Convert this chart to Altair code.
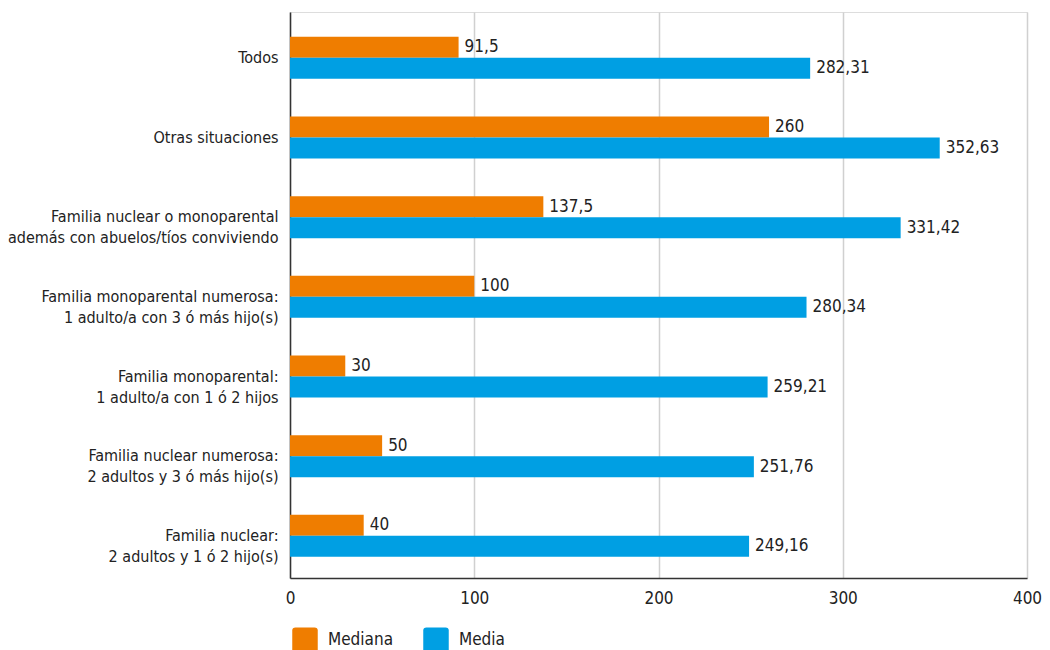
import altair as alt
import pandas as pd

categories = [
    "Todos",
    "Otras situaciones",
    "Familia nuclear o monoparental|además con abuelos/tíos conviviendo",
    "Familia monoparental numerosa:|1 adulto/a con 3 ó más hijo(s)",
    "Familia monoparental:|1 adulto/a con 1 ó 2 hijos",
    "Familia nuclear numerosa:|2 adultos y 3 ó más hijo(s)",
    "Familia nuclear:|2 adultos y 1 ó 2 hijo(s)",
]
mediana = [91.5, 260, 137.5, 100, 30, 50, 40]
media = [282.31, 352.63, 331.42, 280.34, 259.21, 251.76, 249.16]
series = ["Mediana", "Media"]
colors = ["#EF7D00", "#009FE3"]
x_ticks = [0, 100, 200, 300, 400]


def fmt(v):
    s = ("%.2f" % v).rstrip("0").rstrip(".")
    return s.replace(".", ",")


rows = []
for c, a, b in zip(categories, mediana, media):
    rows.append({"cat": c, "serie": "Mediana", "valor": a, "label": fmt(a)})
    rows.append({"cat": c, "serie": "Media", "valor": b, "label": fmt(b)})
df = pd.DataFrame(rows)

FONT = "'DejaVu Sans Condensed', Roboto, sans-serif"
TXT = "#222222"

y_enc = alt.Y(
    "cat:N",
    sort=categories,
    scale=alt.Scale(paddingInner=0.473, paddingOuter=0.289, align=0.54),
    axis=alt.Axis(
        title=None,
        labelExpr="split(datum.label, '|')",
        labelFont=FONT,
        labelFontSize=16,
        labelColor=TXT,
        labelLimit=400,
        labelPadding=12,
        ticks=False,
        domainColor="#333333",
        domainWidth=1.5,
        labelLineHeight=21,
    ),
)
x_enc = alt.X(
    "valor:Q",
    scale=alt.Scale(domain=[0, 400], nice=False),
    axis=alt.Axis(
        title=None,
        values=x_ticks,
        labelFont=FONT,
        labelFontSize=17,
        labelColor=TXT,
        ticks=False,
        labelPadding=12,
        domainColor="#333333",
        domainWidth=1.5,
        grid=True,
        gridColor="#d0d0d0",
        gridWidth=1.5,
        labelFlush=False,
    ),
)
yoff = alt.YOffset("serie:N", sort=series, scale=alt.Scale(domain=series, paddingInner=0, paddingOuter=0))

rounded = "M-0.75,-1 H0.75 Q1,-1 1,-0.75 V0.75 Q1,1 0.75,1 H-0.75 Q-1,1 -1,0.75 V-0.75 Q-1,-1 -0.75,-1 Z"

bars = alt.Chart(df).mark_bar().encode(
    y=y_enc,
    x=x_enc,
    yOffset=yoff,
    color=alt.Color(
        "serie:N",
        sort=series,
        scale=alt.Scale(domain=series, range=colors),
        legend=alt.Legend(
            title=None,
            orient="none",
            direction="horizontal",
            legendX=2,
            legendY=615,
            symbolType=rounded,
            symbolSize=650,
            symbolStrokeWidth=0,
            symbolOpacity=1,
            labelFont=FONT,
            labelFontSize=17,
            labelColor=TXT,
            labelOffset=10,
            columnPadding=29,
        ),
    ),
)

labels = alt.Chart(df).mark_text(
    align="left", baseline="middle", dx=6, font=FONT, fontSize=17, color=TXT
).encode(
    y=alt.Y("cat:N", sort=categories),
    x=alt.X("valor:Q"),
    yOffset=alt.YOffset("serie:N", sort=series),
    text="label:N",
)

chart = (
    alt.layer(bars, labels)
    .properties(
        width=737,
        height=566,
        autosize=alt.AutoSizeParams(type="none"),
        padding={"left": 282, "top": 4, "right": 15, "bottom": 72},
    )
    .configure_view(stroke=None)
    .configure(background="white")
)

chart.save("out.html", embed_options={"renderer": "svg", "actions": False})
